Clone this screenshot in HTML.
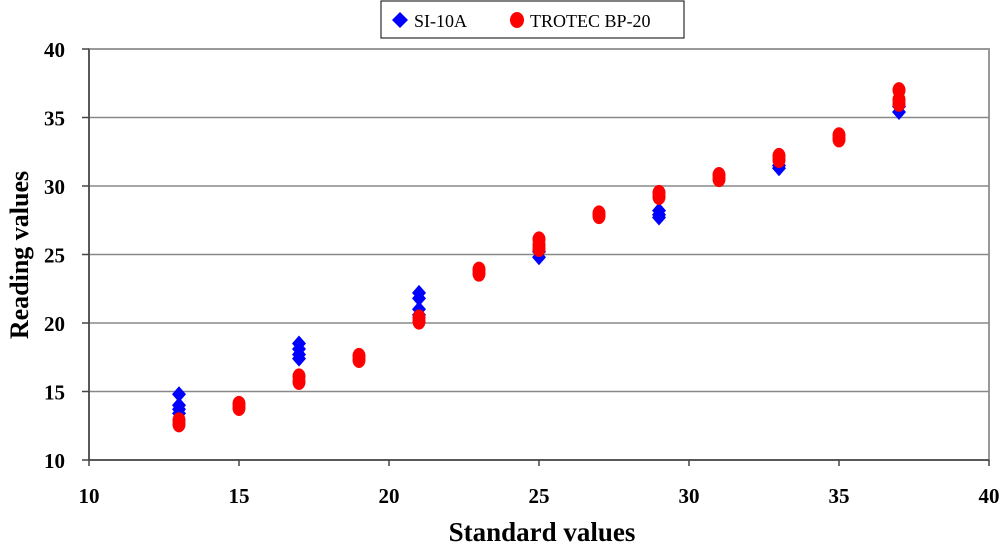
<!DOCTYPE html>
<html><head><meta charset="utf-8"><style>
body{margin:0;background:#fff;}
svg text{font-family:"Liberation Serif",serif;}
</style></head><body>
<svg width="1000" height="544" id="chart" xmlns="http://www.w3.org/2000/svg">
<rect x="89" y="49" width="900" height="411" fill="#fff" stroke="#999" stroke-width="2"/>
<g id="grid"></g>
<line x1="89" y1="49" x2="89" y2="460" stroke="#444" stroke-width="1.5"/>
<line x1="89" y1="460" x2="989" y2="460" stroke="#444" stroke-width="1.5"/>
<g id="ticks"></g><g id="pts"></g>
<text x="542" y="541" text-anchor="middle" font-size="27" font-weight="bold">Standard values</text>
<text transform="translate(28,255) rotate(-90)" text-anchor="middle" font-size="26" font-weight="bold">Reading values</text>
<g>
<rect x="381" y="1" width="303" height="37" fill="#fff" stroke="#000" stroke-width="1"/>
<g><path d="M400 12 L408 20 L400 28 L392 20 Z" fill="#00f"/><text x="414" y="27" font-size="18">SI-10A</text></g>
<g><ellipse cx="517" cy="20" rx="7" ry="8" fill="#f00"/><text x="530" y="27" font-size="18">TROTEC BP-20</text></g>
</g>
</svg>
<script>
const xTicks=[10,15,20,25,30,35,40];
const yTicks=[10,15,20,25,30,35,40];
const siX=[13,13,13,13,17,17,17,17,21,21,21,21,25,25,29,29,29,33,33,37,37];
const siY=[14.8,14.0,13.7,13.4,18.5,18.1,17.7,17.4,22.2,21.8,21.0,20.6,25.2,24.8,28.2,27.9,27.7,31.5,31.3,35.8,35.4];
const trX=[13,13,15,15,17,17,19,19,21,21,23,23,25,25,25,27,27,29,29,31,31,33,33,35,35,37,37,37];
const trY=[12.9,12.6,14.1,13.8,16.1,15.7,17.6,17.3,20.4,20.1,23.9,23.6,26.1,25.7,25.4,28.0,27.8,29.5,29.2,30.8,30.5,32.2,31.9,33.7,33.4,37.0,36.3,36.0];
const NS="http://www.w3.org/2000/svg";
const X=v=>89+(v-10)*900/30, Y=v=>460-(v-10)*411/30;
function mk(t,a,p){const e=document.createElementNS(NS,t);for(const k in a)e.setAttribute(k,a[k]);document.getElementById(p).appendChild(e);return e;}
yTicks.forEach(v=>{
 if(v>10&&v<40){const g=mk('line',{x1:89,x2:989,y1:Y(v),y2:Y(v),stroke:'#888','stroke-width':1.5},'grid');
 
 }
 const m=mk('line',{x1:82,x2:89,y1:Y(v),y2:Y(v),stroke:'#444','stroke-width':1.5},'ticks');
 
 
 const t=mk('text',{x:65,y:Y(v)+8,'text-anchor':'end','font-size':21,'font-weight':'bold'},'ticks');t.textContent=v;
 
 
});
xTicks.forEach(v=>{
 const m=mk('line',{x1:X(v),x2:X(v),y1:460,y2:466,stroke:'#444','stroke-width':1.5},'ticks');
 
 
 const t=mk('text',{x:X(v),y:503,'text-anchor':'middle','font-size':21,'font-weight':'bold'},'ticks');t.textContent=v;
 
 
});
siX.forEach((v,i)=>{const x=X(v),y=Y(siY[i]);
 const p=mk('path',{d:`M${x} ${y-8}L${x+7} ${y}L${x} ${y+8}L${x-7} ${y}Z`,fill:'#00f'},'pts');
 
 });
trX.forEach((v,i)=>{
 const c=mk('ellipse',{cx:X(v),cy:Y(trY[i]),rx:6.5,ry:8,fill:'#f00'},'pts');
 
 });
</script>
</body></html>
